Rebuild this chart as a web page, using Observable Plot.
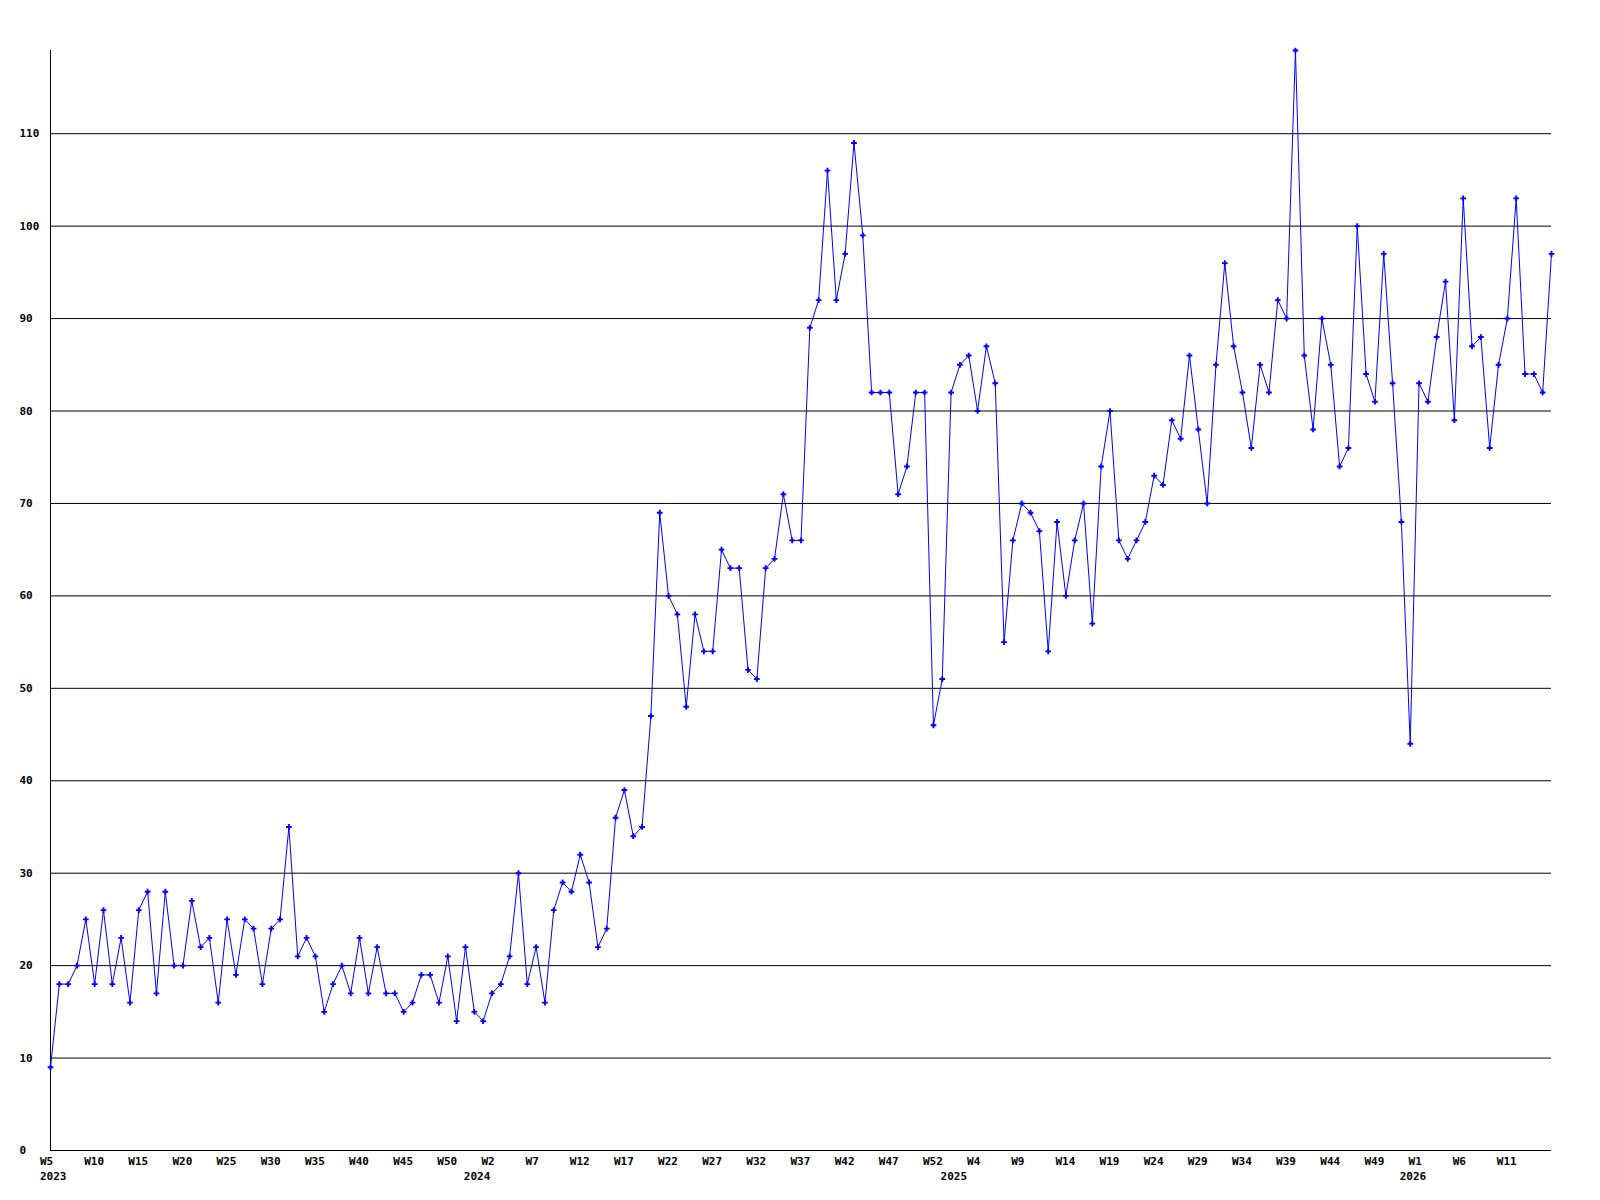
<!DOCTYPE html>
<html>
<head>
<meta charset="utf-8">
<script src="https://cdn.jsdelivr.net/npm/d3@7"></script>
<script src="https://cdn.jsdelivr.net/npm/@observablehq/plot@0.6"></script>
<style>
  html, body { margin: 0; padding: 0; background: #ffffff; }
  #chart { width: 1600px; height: 1200px; }
</style>
</head>
<body>
<div id="chart"></div>
<script>
// Weekly values, 2023 W5 → 2026
const values = [
  9, 18, 18, 20, 25, 18, 26, 18, 23, 16, 26, 28, 17, 28, 20, 20, 27, 22, 23, 16, 25, 19, 25, 24, 18, 24, 25, 35, 21,
  23, 21, 15, 18, 20, 17, 23, 17, 22, 17, 17, 15, 16, 19, 19, 16, 21, 14, 22, 15, 14, 17, 18, 21, 30, 18, 22, 16, 26,
  29, 28, 32, 29, 22, 24, 36, 39, 34, 35, 47, 69, 60, 58, 48, 58, 54, 54, 65, 63, 63, 52, 51, 63, 64, 71, 66, 66,
  89, 92, 106, 92, 97, 109, 99, 82, 82, 82, 71, 74, 82, 82, 46, 51, 82, 85, 86, 80, 87, 83, 55, 66, 70, 69, 67, 54,
  68, 60, 66, 70, 57, 74, 80, 66, 64, 66, 68, 73, 72, 79, 77, 86, 78, 70, 85, 96, 87, 82, 76, 85, 82, 92, 90, 119,
  86, 78, 90, 85, 74, 76, 100, 84, 81, 97, 83, 68, 44, 83, 81, 88, 94, 79, 103, 87, 88, 76, 85, 90, 103, 84, 84, 82, 97
];

// Week tick labels (position = point index)
const weekTickIdx = [0, 5, 10, 15, 20, 25, 30, 35, 40, 45, 50, 55, 60, 65, 70, 75, 80, 85, 90, 95, 100,
  105, 110, 115, 120, 125, 130, 135, 140, 145, 150, 155, 160, 165];
const weekTickLabels = ["W5", "W10", "W15", "W20", "W25", "W30", "W35", "W40", "W45", "W50",
  "W2", "W7", "W12", "W17", "W22", "W27", "W32", "W37", "W42", "W47", "W52",
  "W4", "W9", "W14", "W19", "W24", "W29", "W34", "W39", "W44", "W49",
  "W1", "W6", "W11"];

// Year labels
const yearTickIdx = [0, 48, 102, 154];
const yearLabels = ["2023", "2024", "2025", "2026"];

// Y ticks / gridlines
const yTicks = [0, 10, 20, 30, 40, 50, 60, 70, 80, 90, 100, 110];
const yMax = 119;

const data = values.map((v, i) => ({i, v}));
const weekTicks = weekTickIdx.map((x, k) => ({x, label: weekTickLabels[k]}));
const yearTicks = yearTickIdx.map((x, k) => ({x, label: yearLabels[k]}));

const font = {fontFamily: "DejaVu Sans Mono", fontSize: 11, fontWeight: "bold", fill: "black"};

const chart = Plot.plot({
  width: 1600,
  height: 1200,
  marginLeft: 50,
  marginRight: 49,
  marginTop: 50,
  marginBottom: 50,
  style: {background: "white", fontFamily: "DejaVu Sans Mono", fontSize: "11px", fontWeight: "bold", overflow: "visible"},
  x: {domain: [0, values.length - 1], axis: null},
  y: {domain: [0, yMax], axis: null},
  marks: [
    Plot.ruleY(yTicks, {y: d => d, stroke: "black", strokeWidth: 1}),
    Plot.ruleX([0], {stroke: "black", strokeWidth: 1}),
    Plot.text(yTicks, {y: d => d, text: d => String(d), frameAnchor: "left", dx: -31, textAnchor: "start", ...font}),
    Plot.text(weekTicks, {x: "x", text: "label", frameAnchor: "bottom", dy: 14, dx: -10.5, textAnchor: "start", ...font}),
    Plot.text(yearTicks, {x: "x", text: "label", frameAnchor: "bottom", dy: 29, dx: -10.5, textAnchor: "start", ...font}),
    Plot.line(data, {x: "i", y: "v", stroke: "#0000ff", strokeWidth: 1}),
    Plot.dot(data, {x: "i", y: "v", symbol: "cross", r: 2.4, fill: "#0000ff", stroke: "none"})
  ]
});
document.getElementById("chart").appendChild(chart);
</script>
</body>
</html>
